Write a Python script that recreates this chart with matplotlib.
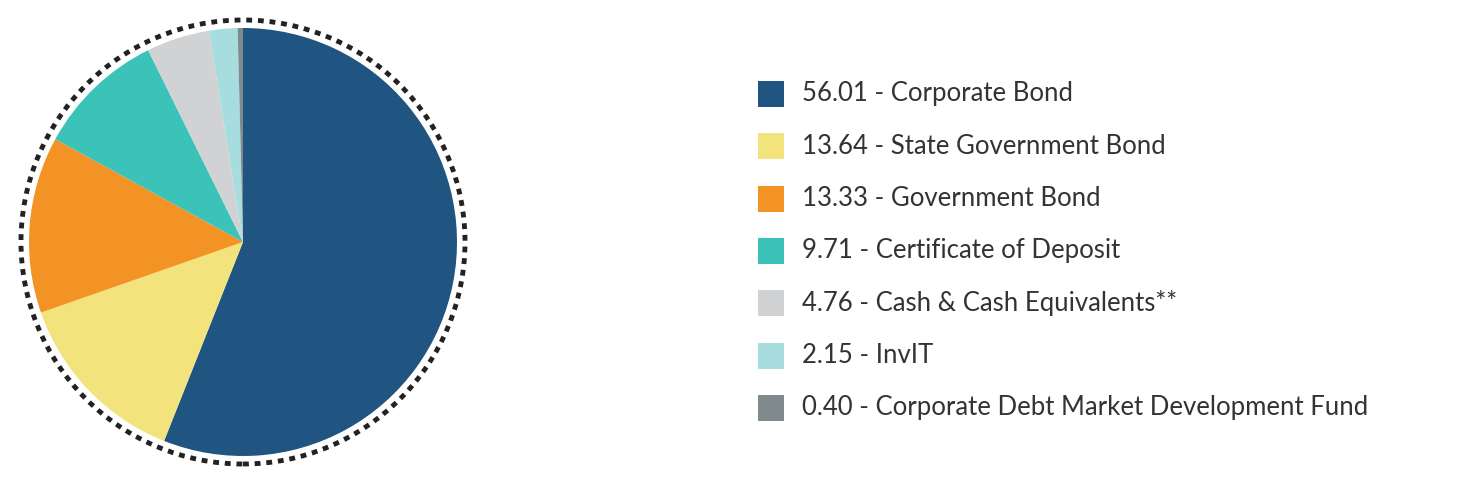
import numpy as np
import matplotlib.pyplot as plt
from matplotlib.patches import Rectangle, Circle

values = [56.01, 13.64, 13.33, 9.71, 4.76, 2.15, 0.40]
names = ['Corporate Bond', 'State Government Bond', 'Government Bond',
         'Certificate of Deposit', 'Cash & Cash Equivalents**', 'InvIT',
         'Corporate Debt Market Development Fund']
colors = ['#1f5580', '#f3e37c', '#f39325', '#3bc2b9', '#d1d2d4', '#a8dde0', '#7f8a8f']

W, H = 1463, 490
fig = plt.figure(figsize=(W / 100, H / 100), dpi=100)

# pie axes: centre (243, 242) px, radius 214 px
r = 214
lim = 1.1
cx, cy = 243, H - 242
ax = fig.add_axes([(cx - lim * r) / W, (cy - lim * r) / H, 2 * lim * r / W, 2 * lim * r / H])
ax.pie(values, colors=colors, startangle=90, counterclock=False, radius=1.0)
ax.add_patch(Circle((0, 0), 222 / r, fill=False, linestyle=(0, (1.2, 1.2)),
                    linewidth=3.5, edgecolor='#222222'))
ax.set_xlim(-lim, lim)
ax.set_ylim(-lim, lim)
ax.set_aspect('equal')
ax.axis('off')

# legend
for i, (v, n, c) in enumerate(zip(values, names, colors)):
    y = 94 + i * 52.3
    fig.patches.append(Rectangle((758 / W, (H - y - 13) / H), 26 / W, 26 / H,
                                 transform=fig.transFigure, facecolor=c, edgecolor='none'))
    fig.text(802 / W, (H - y) / H, f'{v:.2f} - {n}', fontsize=18.5,
             color='#333333', va='center', ha='left', family='Lato')

fig.savefig('out.png', dpi=100)
